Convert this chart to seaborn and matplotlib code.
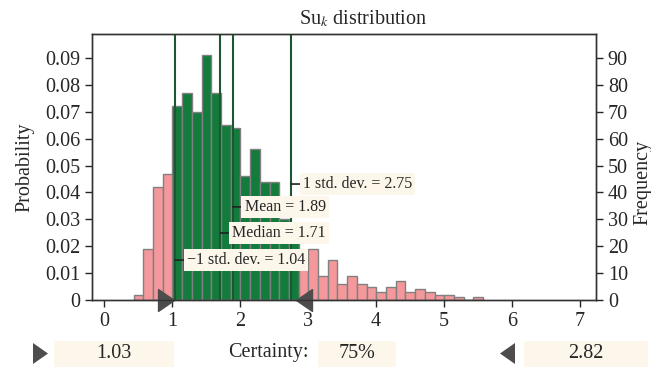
import numpy as np
import pandas as pd
import matplotlib
matplotlib.use("Agg")
import matplotlib.pyplot as plt
import seaborn as sns
from matplotlib.patches import Rectangle, Polygon
from matplotlib.path import Path
from matplotlib.ticker import FuncFormatter, MultipleLocator

# Histogram of the Su_k samples (1000 draws), fixed-width bins
bin_start = 0.433
bin_width = 0.1429
counts = [2, 19, 42, 47,
          72, 77, 70, 91, 77, 65, 64, 46, 56, 44, 44, 30, 26,
          15, 19, 9, 15, 6, 9, 6, 5, 3, 5, 7, 3, 4, 3, 2, 2, 1, 0, 1]
n_samples = 1000

# Certainty interval and summary statistics
lower_bound = 1.03
upper_bound = 2.82
certainty = "75%"
stat_names = ["1 std. dev.", "Mean", "Median", "\u22121 std. dev."]
stat_values = [2.75, 1.89, 1.71, 1.04]
stat_label_y = [0.436, 0.35, 0.252, 0.15]

x_ticks = [0, 1, 2, 3, 4, 5, 6, 7]

GREEN = "#137b3b"
PINK = "#f4989b"
EDGE = "#808080"
LINE = "#1d5632"
CREAM = "#fdf6ea"
DARK = "#4d4d4d"
TXT = "#262626"

sns.set_style("ticks")
plt.rcParams["font.family"] = ["Liberation Serif", "DejaVu Serif"]
plt.rcParams["mathtext.fontset"] = "stix"
plt.rcParams["text.color"] = TXT
plt.rcParams["axes.labelcolor"] = TXT
plt.rcParams["xtick.color"] = TXT
plt.rcParams["ytick.color"] = TXT

W, H = 651, 368
fig = plt.figure(figsize=(W / 100, H / 100), dpi=100)


def fx(px):
    return px / W


def fy(py):
    return 1 - py / H


ax = fig.add_axes([fx(92), fy(300), fx(596) - fx(92), fy(34) - fy(300)])

edges = bin_start + bin_width * np.arange(len(counts) + 1)
centers = (edges[:-1] + edges[1:]) / 2
df = pd.DataFrame({
    "center": centers,
    "prob": np.array(counts) / n_samples,
    "region": np.where((centers >= lower_bound) & (centers <= upper_bound), "in", "out"),
})

sns.histplot(data=df, x="center", weights="prob", bins=edges.tolist(), hue="region",
             hue_order=["out", "in"], palette={"out": PINK, "in": GREEN},
             multiple="layer", alpha=1, edgecolor=EDGE, linewidth=1,
             legend=False, ax=ax)

ax.set_xlim(-0.18, 7.24)
ax.set_ylim(0, 0.0989)
ax.set_xticks(x_ticks)
ax.yaxis.set_major_locator(MultipleLocator(0.01))
ax.yaxis.set_major_formatter(FuncFormatter(lambda v, p: "0" if abs(v) < 1e-9 else f"{v:.2f}"))
ax.set_xlabel("")
ax.set_ylabel("")
ax.tick_params(axis="both", labelsize=14.5, length=5, width=1, direction="out")

for v in stat_values:
    ax.axvline(v, color=LINE, lw=1.5, zorder=3)

for name, v, yf in zip(stat_names, stat_values, stat_label_y):
    ax.annotate(f"{name} = {v:.2f}", xy=(v, yf), xycoords=ax.get_xaxis_transform(),
                xytext=(12, 0), textcoords="offset pixels", ha="left", va="center",
                fontsize=11.5, zorder=6,
                bbox=dict(boxstyle="square,pad=0.2", fc=CREAM, ec="none"),
                arrowprops=dict(arrowstyle="-", color="#222222", lw=1.2,
                                shrinkA=0, shrinkB=0))

# Interval markers on the x axis, tip at the bound
right_tri = Path([(0, 0), (-1.46, 1), (-1.46, -1), (0, 0)],
                 [Path.MOVETO, Path.LINETO, Path.LINETO, Path.CLOSEPOLY])
left_tri = Path([(0, 0), (1.46, 1), (1.46, -1), (0, 0)],
                [Path.MOVETO, Path.LINETO, Path.LINETO, Path.CLOSEPOLY])
ax.plot([lower_bound], [0], marker=right_tri, markersize=23, color=DARK,
        clip_on=False, zorder=7, linestyle="none")
ax.plot([upper_bound], [0], marker=left_tri, markersize=23, color=DARK,
        clip_on=False, zorder=7, linestyle="none")

for s in ax.spines.values():
    s.set_visible(True)
    s.set_color("#333333")
    s.set_linewidth(1)

ax2 = ax.twinx()
ax2.set_ylim(0, 0.0989 * n_samples)
ax2.yaxis.set_major_locator(MultipleLocator(10))
ax2.tick_params(axis="y", labelsize=14.5, length=5, width=1, direction="out")
for s in ax2.spines.values():
    s.set_color("#333333")
    s.set_linewidth(1)

ax.set_title("Su$_k$ distribution", fontsize=14.5, x=0.538, pad=7)
fig.text(fx(25), fy(167), "Probability", rotation=90, ha="center", va="center", fontsize=14.5)
fig.text(fx(643), fy(182), "Frequency", rotation=90, ha="center", va="center", fontsize=14.5)

# Bottom control row: bounds and certainty
fig.add_artist(Polygon([(fx(33), fy(343)), (fx(33), fy(364)), (fx(48), fy(353.5))],
                       closed=True, transform=fig.transFigure, fc=DARK, ec="none"))
fig.add_artist(Polygon([(fx(515), fy(343)), (fx(515), fy(364)), (fx(500), fy(353.5))],
                       closed=True, transform=fig.transFigure, fc=DARK, ec="none"))
for x0, x1 in [(54, 174), (318, 396), (524, 648)]:
    fig.add_artist(Rectangle((fx(x0), fy(367)), fx(x1) - fx(x0), fy(341) - fy(367),
                             transform=fig.transFigure, fc=CREAM, ec="none"))
fig.text(fx(114), fy(354), f"{lower_bound:.2f}", ha="center", va="center", fontsize=14.5)
fig.text(fx(268), fy(353), "Certainty:", ha="center", va="center", fontsize=14.5)
fig.text(fx(357), fy(353), certainty, ha="center", va="center", fontsize=14.5)
fig.text(fx(586), fy(354), f"{upper_bound:.2f}", ha="center", va="center", fontsize=14.5)

fig.savefig("out.png", dpi=100)
